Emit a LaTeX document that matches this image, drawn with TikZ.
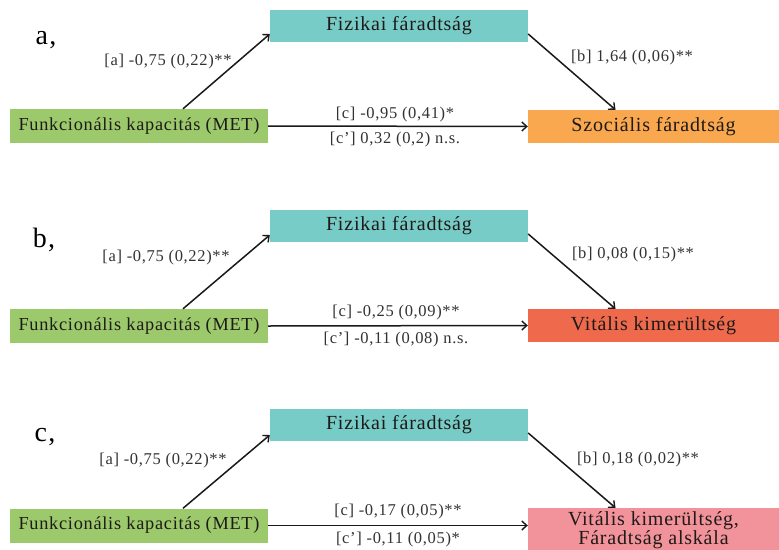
\documentclass[tikz,border=0pt]{standalone}
\usepackage{fontspec}
\setmainfont{Liberation Serif}[LetterSpace=4]
\usetikzlibrary{arrows.meta}
\definecolor{fizc}{RGB}{120,204,200}
\definecolor{funkc}{RGB}{156,201,107}
\definecolor{szocc}{RGB}{249,168,79}
\definecolor{vitc}{RGB}{239,106,77}
\definecolor{farc}{RGB}{242,147,156}
\definecolor{boxtxt}{RGB}{30,26,24}
\definecolor{labtxt}{RGB}{50,50,50}
\definecolor{arr}{RGB}{25,25,25}
\tikzset{
  boxbase/.style={rectangle, inner sep=0pt, text=boxtxt, align=center},
  fizbox/.style={boxbase, fill=fizc, minimum width=258pt, minimum height=32pt, font=\fontsize{20}{22}\selectfont},
  funkbox/.style={boxbase, fill=funkc, minimum width=258pt, minimum height=34pt, font=\fontsize{18.3}{22}\selectfont},
  tgtbox/.style={boxbase, minimum width=251pt, minimum height=33pt, font=\fontsize{20}{18}\selectfont},
  lab/.style={inner sep=0pt, text=labtxt, font=\fontsize{16.5}{18}\selectfont},
  panel/.style={inner sep=0pt, text=black, font=\fontsize{28}{30}\selectfont},
  conn/.style={draw=arr, line width=1.5pt, -{Straight Barb[length=5pt,width=9pt,line width=1.4pt]}}
}
\begin{document}
\begin{tikzpicture}[x=1pt,y=-1pt]
\clip (0,0) rectangle (779,549);
% ---------- panel a
\node[panel] (pa) at (46,40) {a,};
\node[fizbox] (fiza) at (399,26) {Fizikai fáradtság};
\node[funkbox] (funka) at (139,126) {Funkcionális kapacitás (MET)};
\node[tgtbox, fill=szocc] (tgta) at (653.5,126.5) {Szociális fáradtság};
\draw[conn] ([xshift=44pt]funka.north) -- ([yshift=-8pt]fiza.west);
\draw[conn] ([yshift=-8pt]fiza.east) -- ([xshift=-38pt]tgta.north);
\draw[conn] (funka.east) -- (tgta.west);
\node[lab] (la) at (168,62) {[a] -0,75 (0,22)**};
\node[lab] (lb) at (632,58) {[b] 1,64 (0,06)**};
\node[lab] (lc) at (395,115) {[c] -0,95 (0,41)*};
\node[lab] (lcp) at (395,140) {[c’] 0,32 (0,2) n.s.};
% ---------- panel b
\node[panel] (pb) at (44,240) {b,};
\node[fizbox] (fizb) at (399,226) {Fizikai fáradtság};
\node[funkbox] (funkb) at (139,326) {Funkcionális kapacitás (MET)};
\node[tgtbox, fill=vitc] (tgtb) at (653.5,325.5) {Vitális kimerültség};
\draw[conn] ([xshift=44pt]funkb.north) -- ([yshift=-9pt]fizb.west);
\draw[conn] ([yshift=-8pt]fizb.east) -- ([xshift=-38pt]tgtb.north);
\draw[conn] (funkb.east) -- (tgtb.west);
\node[lab] (lb-a) at (166,258) {[a] -0,75 (0,22)**};
\node[lab] (lb-b) at (633,255) {[b] 0,08 (0,15)**};
\node[lab] (lb-c) at (396,313) {[c] -0,25 (0,09)**};
\node[lab] (lb-cp) at (396,340) {[c’] -0,11 (0,08) n.s.};
% ---------- panel c
\node[panel] (pc) at (45,437) {c,};
\node[fizbox] (fizc) at (399,425) {Fizikai fáradtság};
\node[funkbox] (funkc) at (139,525.5) {Funkcionális kapacitás (MET)};
\node[tgtbox, fill=farc, minimum height=44pt] (tgtc) at (653.5,530) {Vitális kimerültség,\\Fáradtság alskála};
\draw[conn] ([xshift=44pt]funkc.north) -- ([yshift=-10pt]fizc.west);
\draw[conn] ([yshift=-8pt]fizc.east) -- ([xshift=-38pt]tgtc.north);
\draw[conn] (funkc.east) -- (funkc.east -| tgtc.west);
\node[lab] (lc-a) at (163,461) {[a] -0,75 (0,22)**};
\node[lab] (lc-b) at (638,460) {[b] 0,18 (0,02)**};
\node[lab] (lc-c) at (398,512) {[c] -0,17 (0,05)**};
\node[lab] (lc-cp) at (398,540) {[c’] -0,11 (0,05)*};
\end{tikzpicture}
\end{document}
